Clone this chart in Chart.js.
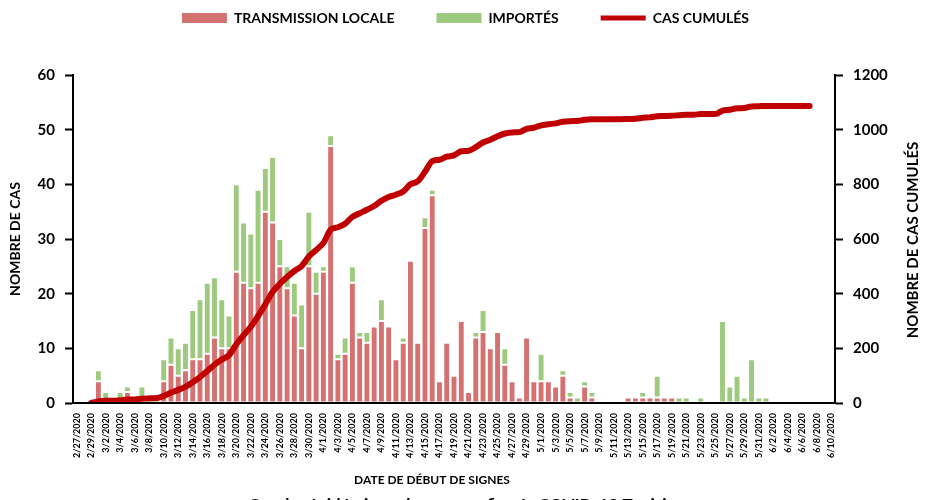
<!DOCTYPE html>
<html lang="fr">
<head>
<meta charset="UTF-8">
<title>Courbe épidémique COVID-19 Tunisie</title>
<script src="https://cdn.jsdelivr.net/npm/chart.js"></script>
<style>
  html, body { margin: 0; padding: 0; background: #fff; }
  #wrap { width: 931px; height: 500px; }
</style>
</head>
<body>
<div id="wrap"><canvas id="chart" width="931" height="500"></canvas></div>
<script>
// Dates de début des signes (une barre par jour)
const dates = [
  '2/27/2020','2/28/2020','2/29/2020',
  '3/1/2020','3/2/2020','3/3/2020','3/4/2020','3/5/2020','3/6/2020','3/7/2020','3/8/2020','3/9/2020','3/10/2020',
  '3/11/2020','3/12/2020','3/13/2020','3/14/2020','3/15/2020','3/16/2020','3/17/2020','3/18/2020','3/19/2020','3/20/2020',
  '3/21/2020','3/22/2020','3/23/2020','3/24/2020','3/25/2020','3/26/2020','3/27/2020','3/28/2020','3/29/2020','3/30/2020','3/31/2020',
  '4/1/2020','4/2/2020','4/3/2020','4/4/2020','4/5/2020','4/6/2020','4/7/2020','4/8/2020','4/9/2020','4/10/2020',
  '4/11/2020','4/12/2020','4/13/2020','4/14/2020','4/15/2020','4/16/2020','4/17/2020','4/18/2020','4/19/2020','4/20/2020',
  '4/21/2020','4/22/2020','4/23/2020','4/24/2020','4/25/2020','4/26/2020','4/27/2020','4/28/2020','4/29/2020','4/30/2020',
  '5/1/2020','5/2/2020','5/3/2020','5/4/2020','5/5/2020','5/6/2020','5/7/2020','5/8/2020','5/9/2020','5/10/2020',
  '5/11/2020','5/12/2020','5/13/2020','5/14/2020','5/15/2020','5/16/2020','5/17/2020','5/18/2020','5/19/2020','5/20/2020',
  '5/21/2020','5/22/2020','5/23/2020','5/24/2020','5/25/2020','5/26/2020','5/27/2020','5/28/2020','5/29/2020','5/30/2020','5/31/2020',
  '6/1/2020','6/2/2020','6/3/2020','6/4/2020','6/5/2020','6/6/2020','6/7/2020','6/8/2020','6/9/2020','6/10/2020'
];

const transmissionLocale = [
  0, 0, 0, 4, 0, 0, 0, 2, 0, 1,
  0, 0, 4, 7, 5, 6, 8, 8, 9, 12,
  10, 10, 24, 22, 21, 22, 35, 33, 25, 21,
  16, 10, 25, 20, 24, 47, 8, 9, 22, 12,
  11, 14, 15, 14, 8, 11, 26, 11, 32, 38,
  4, 11, 5, 15, 2, 12, 13, 10, 13, 7,
  4, 1, 12, 4, 4, 4, 3, 5, 1, 0,
  3, 1, 0, 0, 0, 0, 1, 1, 1, 1,
  1, 1, 1, 0, 0, 0, 0, 0, 0, 0,
  0, 0, 0, 0, 0, 0, 0, 0, 0, 0,
  0, 0, 0, 0, 0
];

const importes = [
  0, 0, 0, 2, 2, 0, 2, 1, 0, 2,
  1, 1, 4, 5, 5, 5, 9, 11, 13, 11,
  9, 6, 16, 11, 10, 17, 8, 12, 5, 4,
  6, 8, 10, 4, 1, 2, 1, 3, 3, 1,
  2, 0, 4, 0, 0, 1, 0, 0, 2, 1,
  0, 0, 0, 0, 0, 1, 4, 0, 0, 3,
  0, 0, 0, 0, 5, 0, 0, 1, 1, 1,
  1, 1, 0, 0, 0, 0, 0, 0, 1, 0,
  4, 0, 0, 1, 1, 0, 1, 0, 0, 15,
  3, 5, 1, 8, 1, 1, 0, 0, 0, 0,
  0, 0, 0, 0, 0
];

const casCumules = [
  null, null, 0, 6, 8, 8, 10, 13, 13, 16,
  17, 18, 26, 38, 48, 59, 76, 95, 117, 140,
  159, 175, 215, 248, 279, 318, 361, 406, 436, 461,
  483, 501, 536, 560, 585, 634, 643, 656, 681, 694,
  707, 721, 740, 754, 762, 774, 800, 811, 846, 885,
  890, 901, 906, 921, 923, 936, 953, 963, 976, 986,
  990, 991, 1003, 1007, 1016, 1020, 1023, 1029, 1031, 1032,
  1036, 1038, 1038, 1038, 1038, 1038, 1039, 1040, 1044, 1045,
  1049, 1050, 1051, 1053, 1055, 1055, 1057, 1057, 1057, 1070,
  1073, 1078, 1079, 1085, 1086, 1087, 1087, 1087, 1087, 1087,
  1087, 1087, null, null, null
];

const ticksCas = [0, 10, 20, 30, 40, 50, 60];
const ticksCumules = [0, 200, 400, 600, 800, 1000, 1200];

const FONT = 'Lato, "Liberation Sans", sans-serif';

// pousse la zone du graphique sous la légende
const legendSpacing = {
  id: 'legendSpacing',
  beforeInit(chart) {
    const fit = chart.legend.fit;
    chart.legend.fit = function () {
      fit.bind(chart.legend)();
      this.height = 106;
    };
  }
};

// titres qui ne sont pas gérés par les axes
const extraText = {
  id: 'extraText',
  afterDraw(chart) {
    const ctx = chart.ctx;
    ctx.save();
    ctx.fillStyle = '#000';
    ctx.textAlign = 'center';
    ctx.textBaseline = 'middle';
    ctx.font = 'bold 12px ' + FONT;
    ctx.fillText('DATE DE DÉBUT DE SIGNES', 432, 480);
    ctx.font = 'bold 17px ' + FONT;
    ctx.textBaseline = 'alphabetic';
    ctx.fillText('Courbe épidémique des cas confirmés COVID-19 Tunisie', 462, 511);
    ctx.translate(913, 240);
    ctx.rotate(-Math.PI / 2);
    ctx.font = 'bold 15px ' + FONT;
    ctx.textBaseline = 'middle';
    ctx.fillText('NOMBRE DE CAS CUMULÉS', 0, 0);
    ctx.restore();
  }
};

new Chart(document.getElementById('chart'), {
  type: 'bar',
  data: {
    labels: dates,
    datasets: [
      {
        label: 'TRANSMISSION LOCALE',
        data: transmissionLocale,
        backgroundColor: '#D47272',
        borderColor: '#ffffff',
        borderWidth: 1,
        borderSkipped: false,
        yAxisID: 'y',
        stack: 'cas',
        order: 1,
        barPercentage: 0.95,
        categoryPercentage: 1
      },
      {
        label: 'IMPORTÉS',
        data: importes,
        backgroundColor: '#9DCA7E',
        borderColor: '#ffffff',
        borderWidth: 1,
        borderSkipped: false,
        yAxisID: 'y',
        stack: 'cas',
        order: 1,
        barPercentage: 0.95,
        categoryPercentage: 1
      },
      {
        type: 'line',
        label: 'CAS CUMULÉS',
        data: casCumules,
        yAxisID: 'y1',
        borderColor: '#C00000',
        backgroundColor: '#C00000',
        borderWidth: 6,
        borderCapStyle: 'round',
        borderJoinStyle: 'round',
        pointRadius: 0,
        cubicInterpolationMode: 'monotone',
        order: 0
      }
    ]
  },
  options: {
    responsive: false,
    animation: false,
    devicePixelRatio: 1,
    layout: { padding: { top: -31, left: 0, right: 0, bottom: 0 } },
    plugins: {
      tooltip: { enabled: false },
      legend: {
        position: 'top',
        labels: {
          usePointStyle: true,
          pointStyleWidth: 45,
          boxHeight: 10,
          padding: 42,
          color: '#000',
          font: { family: FONT, size: 14, weight: 'bold' },
          generateLabels: chart => chart.data.datasets.map((ds, i) => {
            const isLine = ds.type === 'line';
            return {
              text: ds.label,
              datasetIndex: i,
              fillStyle: isLine ? ds.borderColor : ds.backgroundColor,
              strokeStyle: isLine ? ds.borderColor : ds.backgroundColor,
              lineWidth: isLine ? 5 : 0,
              pointStyle: isLine ? 'line' : 'rect',
              fontColor: '#000',
              hidden: false
            };
          })
        }
      }
    },
    scales: {
      x: {
        stacked: true,
        grid: { display: false },
        border: { display: true, color: '#000', width: 2, z: 1 },
        ticks: {
          autoSkip: false,
          maxRotation: 90,
          minRotation: 90,
          padding: 2,
          color: '#000',
          font: { family: FONT, size: 9, weight: 'bold' },
          callback: function (v, i) { return i % 2 === 0 ? this.getLabelForValue(v) : ''; }
        },
        afterFit: s => { s.height = 97; }
      },
      y: {
        stacked: true,
        position: 'left',
        min: 0,
        max: 60,
        afterBuildTicks: s => { s.ticks = ticksCas.map(v => ({ value: v })); },
        ticks: { color: '#000', padding: 10, font: { family: FONT, size: 15, weight: 'bold' } },
        grid: { drawOnChartArea: false, tickLength: 8, tickColor: '#000', tickWidth: 2 },
        border: { color: '#000', width: 2, z: 1 },
        title: {
          display: true,
          text: 'NOMBRE DE CAS',
          color: '#000',
          font: { family: FONT, size: 14, weight: 'bold' },
          padding: { top: 7, bottom: 0 }
        },
        afterFit: s => { s.width = 73; }
      },
      y1: {
        position: 'right',
        stacked: false,
        min: 0,
        max: 1200,
        afterBuildTicks: s => { s.ticks = ticksCumules.map(v => ({ value: v })); },
        ticks: {
          color: '#000',
          padding: 10,
          font: { family: FONT, size: 15, weight: 'bold' },
          callback: v => String(v)
        },
        grid: { drawOnChartArea: false, tickLength: 8, tickColor: '#000', tickWidth: 2 },
        border: { color: '#000', width: 2, z: 1 },
        afterFit: s => { s.width = 96; }
      }
    }
  },
  plugins: [legendSpacing, extraText]
});
</script>
</body>
</html>
